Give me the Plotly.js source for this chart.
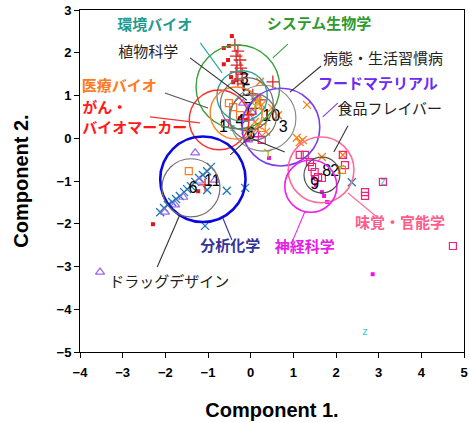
<!DOCTYPE html>
<html><head><meta charset="utf-8">
<script src="https://cdn.plot.ly/plotly-3.0.1.min.js"></script>
<style>html,body{margin:0;padding:0;background:#fff}</style>
</head><body><div id="chart" style="width:469px;height:422px"></div>
<script>
// ---- scatter points per group (Component 1, Component 2) ----
const ganX = [-0.44,-0.63,-0.51,-0.63,-0.53,-0.46,-0.34,-0.41,-2.29,-1.23,-0.25,-0.11];
const ganY = [2.39,2.11,2.16,1.73,1.83,1.43,1.36,1.31,-2.01,-1.24,0.47,0.43];

const sysX = [-0.37,-0.30,-0.34,-0.25,-0.32,-0.23,-0.34,-0.20,-0.30,-0.18,0.52,0.22,0.05,-1.07,0.12,-0.05];
const sysY = [2.18,2.04,1.92,1.83,1.71,1.64,1.55,1.50,1.36,1.27,1.32,0.90,1.01,-1.09,0.70,0.55];

const kankyoX = [2.68,3.10,-0.43,-0.05,0.05];
const kankyoY = [-4.53,-1.02,0.24,0.15,0.95];

const iryoX = [-1.45,-0.41,-0.51,-0.25,0.26,2.14];
const iryoY = [-0.77,0.73,0.82,0.54,0.24,-0.74];

const bunsekiX = [-1.02,-0.56,-0.13,-1.07,2.37,-2.12,-2.03,-1.94,-1.84,-1.75,-1.66,-1.56,-1.49,-1.40,-1.30,-1.21,-1.12,-1.02,-0.93];
const bunsekiY = [-1.21,-1.23,-1.16,-2.05,-1.03,-1.73,-1.63,-1.56,-1.49,-1.42,-1.35,-1.26,-1.19,-1.12,-1.02,-0.93,-0.86,-0.77,-0.67];

const foodX = [0.22,1.32,1.08,1.15,1.22,1.67,2.16,0.64,0.10,0.10,0.26,-0.02,0.17,-0.13,0.36,0.50];
const foodY = [1.32,0.78,0.01,-0.09,-0.04,-0.44,-0.39,0.54,0.38,0.89,0.78,0.61,0.31,0.19,0.15,0.71];

const drugX = [-3.53,-1.30,-2.01,-1.77,-0.84,-1.58,-1.20,-0.06,0.03,-0.02,-0.18,0.17];
const drugY = [-3.13,-0.34,-1.73,-1.56,-0.98,-1.38,-1.00,-0.04,0.61,0.47,0.82,0.08];

const shinkeiX = [0.43,1.67,1.72,1.79,2.86,1.46,1.53,-0.06];
const shinkeiY = [-0.46,-1.26,-1.35,-1.49,-3.18,-0.93,-1.09,-0.04];

const mikakuX = [1.15,1.27,1.39,1.44,1.50,1.58,1.67,2.21,2.68,2.68,3.10,4.74,2.16,0.26,0.10,-0.60];
const mikakuY = [-0.39,-0.39,-0.56,-0.67,-0.79,-0.91,-0.93,-0.63,-1.26,-1.35,-1.02,-2.52,-0.39,-0.04,0.12,0.35];

const flavorX = [0.41,0.10,0.26,0.17,0.36,2.09,-0.02];
const flavorY = [-0.32,0.78,0.66,0.89,0.43,-0.70,0.20];

// ---- group circles: centre and radius ----
const circleCX = [-0.30,-0.20,-0.74,-0.34,0.71,-1.12,1.65,1.41,-1.40,1.67,0.29,-0.09,0.05];
const circleCY = [1.20,0.99,0.43,0.59,0.26,-0.96,-0.74,-1.12,-1.16,-0.86,0.47,0.80,0.50];
const circleR  = [0.98,0.59,0.70,0.61,0.91,1.00,0.77,0.61,0.68,0.42,0.77,0.62,0.55];
const circleColors = ['#3a9e3a','#2aa3a3','#ff2a2a','#ff7f27','#7a3cf0','#0a0ae0','#ff6c98','#ee22ee','#707070','#505050','#8a8a8a','#707070','#707070'];
const circleWidths = [1.4,1.4,1.4,1.4,1.6,2.6,1.6,1.6,1.2,1.2,1.2,1.2,1.2];

// ---- cluster numbers ----
const numText = ['1','2','3','4','5','3','6','7','8','9','10','11','6'];
const numX = [-0.64,1.97,0.76,-0.25,-0.10,-0.15,0.00,-0.06,1.78,1.50,0.48,-0.90,-1.35];
const numY = [0.24,-0.79,0.24,0.38,1.08,1.36,0.07,0.66,-0.79,-1.10,0.49,-1.03,-1.19];

// ---- labels ----
const labelText = ['環境バイオ','植物科学','医療バイオ','がん・','バイオマーカー','システム生物学','病態・生活習慣病','フードマテリアル','食品フレイバー','分析化学','神経科学','味覚・官能学','ドラッグデザイン'];
const labelX = [-2.25,-2.40,-3.08,-3.95,-3.95,1.60,3.10,2.98,3.26,-0.48,1.27,3.50,-1.91];
const labelY = [2.63,1.99,1.19,0.68,0.22,2.65,1.83,1.25,0.66,-2.54,-2.57,-2.00,-3.39];
const labelColors = ['#1f9b8f','#222222','#ff7a22','#ff1a1a','#ff1a1a','#2f9a2f','#222222','#6a2cf5','#222222','#333399','#e51ee5','#ff5c8a','#222222'];
const labelBold = [true,false,true,true,true,true,false,true,false,true,true,true,false];
const labelAnchor = ['center','center','center','left','left','center','center','center','center','center','center','center','center'];

// ---- leader lines ----
const leadX0 = [-1.18,0.87,-1.42,-2.01,-2.36,1.65,2.04,2.28,-0.65,-1.66,1.27,2.28,-0.48,-0.02];
const leadY0 = [2.23,2.20,1.88,1.06,0.50,1.69,0.82,0.29,-1.87,-1.79,-1.72,-1.28,-0.39,0.01];
const leadX1 = [-0.67,0.52,-0.09,-1.00,-1.19,0.92,1.69,1.95,-0.44,-2.19,0.97,2.98,0.03,0.80];
const leadY1 = [1.53,1.88,0.89,0.71,0.36,1.08,0.50,-0.32,-2.38,-3.01,-2.43,-1.86,0.08,-0.32];
const leadColors = ['#2aa3a3','#3a9e3a','#333333','#555555','#ff3030','#333333','#7a3cf0','#333333','#333399','#333333','#ee22ee','#ff6c98','#333333','#333333'];

const isC = (_,i)=>labelAnchor[i]==='center';
const isL = (_,i)=>labelAnchor[i]==='left';
const labelHtml = labelText.map((t,i)=>labelBold[i]?'<b>'+t+'</b>':t);

const traces = [
  {x: bunsekiX, y: bunsekiY, mode:'markers', marker:{symbol:'x-thin-open', size:8, line:{color:'#3a7fe8', width:1.3}}},
  {x: foodX, y: foodY, mode:'markers', marker:{symbol:'x-thin-open', size:8, line:{color:'#5a3ce8', width:1.3}}},
  {x: drugX, y: drugY, mode:'markers', marker:{symbol:'triangle-up-open', size:8, color:'#9a66ee', line:{width:1.2}}},
  {x: sysX, y: sysY, mode:'markers', marker:{symbol:'cross-thin-open', size:9, line:{color:'#33dd22', width:1.3}}},
  {x: ganX, y: ganY, mode:'markers', marker:{symbol:'square', size:4, color:'#ee1111'}},
  {x: shinkeiX, y: shinkeiY, mode:'markers', marker:{symbol:'square', size:4, color:'#ee11ee'}},
  {x: mikakuX, y: mikakuY, mode:'markers', marker:{symbol:'square-open', size:7, color:'#ee2277', line:{width:1.2}}},
  {x: iryoX, y: iryoY, mode:'markers', marker:{symbol:'square-open', size:7, color:'#ff7a22', line:{width:1.2}}},
  {x: flavorX, y: flavorY, mode:'markers', marker:{symbol:'y-down-open', size:7, line:{color:'#e8d800', width:1.5}}},
  {x: kankyoX, y: kankyoY, mode:'text', text: kankyoX.map(()=>'z'), textfont:{family:'Liberation Sans', size:11, color:'#33cccc'}},
  {x: numX, y: numY, mode:'text', text: numText, textfont:{family:'Liberation Sans', size:16, color:'#000'}},
  {x: labelX.filter(isC), y: labelY.filter(isC), mode:'text', text: labelHtml.filter(isC),
   textfont:{family:'Noto Sans CJK JP', size:15, color: labelColors.filter(isC)}, textposition:'middle center'},
  {x: labelX.filter(isL), y: labelY.filter(isL), mode:'text', text: labelHtml.filter(isL),
   textfont:{family:'Noto Sans CJK JP', size:15, color: labelColors.filter(isL)}, textposition:'middle right'}
];

const shapes = [];
circleCX.forEach((cx,i)=>{
  shapes.push({type:'circle', xref:'x', yref:'y', x0:cx-circleR[i], x1:cx+circleR[i], y0:circleCY[i]-circleR[i], y1:circleCY[i]+circleR[i],
    line:{color:circleColors[i], width:circleWidths[i]}, layer:'above'});
});
leadX0.forEach((x0,i)=>{
  shapes.push({type:'line', xref:'x', yref:'y', x0:x0, y0:leadY0[i], x1:leadX1[i], y1:leadY1[i], line:{color:leadColors[i], width:1.1}});
});

const axisFont = {family:'Liberation Sans', size:13, color:'#000', weight:'bold'};
const layout = {
  width:469, height:422,
  margin:{l:80, r:5, t:10, b:70},
  showlegend:false,
  paper_bgcolor:'#fff', plot_bgcolor:'#fff',
  xaxis:{range:[-4,5], dtick:1, tick0:0, showgrid:false, zeroline:false, showline:true, linecolor:'#000', linewidth:1, mirror:true,
    ticks:'outside', ticklen:5, tickcolor:'#000', tickfont:axisFont, ticklabelstandoff:3,
    title:{text:'Component 1.', font:{family:'Liberation Sans', size:20, color:'#000', weight:'bold'}, standoff:24}},
  yaxis:{range:[-5,3], dtick:1, tick0:0, showgrid:false, zeroline:false, showline:true, linecolor:'#000', linewidth:1, mirror:true,
    ticks:'outside', ticklen:5, tickcolor:'#000', tickfont:axisFont,
    title:{text:'Component 2.', font:{family:'Liberation Sans', size:20, color:'#000', weight:'bold'}, standoff:22}},
  shapes: shapes
};
Plotly.newPlot('chart', traces, layout, {displayModeBar:false, staticPlot:true});
</script></body></html>
